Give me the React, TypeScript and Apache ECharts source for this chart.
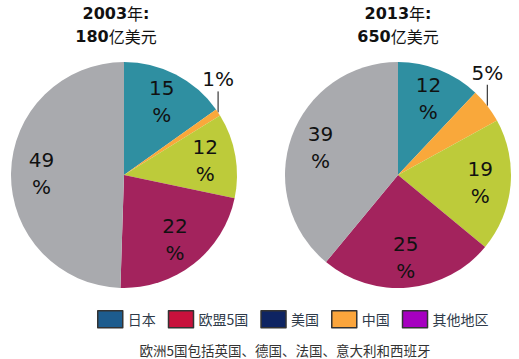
import React, { useEffect, useRef } from "react";
import * as echarts from "echarts";

const categories = ["日本", "中国", "美国", "欧盟5国", "其他地区"];
const values2003 = [15, 1, 12, 22, 49];
const values2013 = [12, 5, 19, 25, 39];
const sliceColors = ["#2F8FA1", "#F9A83B", "#BDCB3A", "#A3235D", "#A9AAAE"];
const legendOrder = ["日本", "欧盟5国", "美国", "中国", "其他地区"];
const legendColors = ["#1D5C8E", "#C8113C", "#0E2462", "#FBA53C", "#A600C0"];
const titleYears = ["2003", "2013"];
const titleAmounts = ["180", "650"];
const footnote = "欧洲5国包括英国、德国、法国、意大利和西班牙";

const SMALL = 6;
const FONT = "DejaVu Sans";

function pieSeries(values: number[], center: number[]) {
  const main = {
    type: "pie",
    center,
    radius: 113,
    startAngle: 90,
    clockwise: true,
    silent: true,
    avoidLabelOverlap: false,
    emphasis: { disabled: true },
    itemStyle: { borderWidth: 0 },
    label: { show: false },
    labelLine: { show: false },
    data: values.map((v, i) => ({
      name: categories[i],
      value: v,
      itemStyle: { color: sliceColors[i] },
      label:
        v < SMALL
          ? {
              show: true,
              position: "outside",
              formatter: "{c}%",
              fontSize: 20,
              fontFamily: FONT,
              color: "#111",
              overflow: "none",
              width: 60,
            }
          : { show: false },
      labelLine:
        v < SMALL
          ? { show: true, length: 10, length2: 0, lineStyle: { color: "#111", width: 1 } }
          : { show: false },
    })),
    labelLayout: (params: any) => {
      const pts = params.labelLinePoints;
      if (!pts || !pts.length) return {};
      const p = pts[0];
      return {
        x: p[0],
        y: p[1] - 23,
        align: "center",
        verticalAlign: "bottom",
        labelLinePoints: [
          [p[0], p[1]],
          [p[0], p[1] - 21],
          [p[0], p[1] - 21],
        ],
      };
    },
  };
  const overlay = {
    type: "pie",
    center,
    radius: [46, 113],
    startAngle: 90,
    clockwise: true,
    silent: true,
    emphasis: { disabled: true },
    legendHoverLink: false,
    itemStyle: { color: "transparent", borderWidth: 0 },
    labelLine: { show: false },
    label: {
      show: true,
      position: "inside",
      formatter: "{c}\n%",
      fontSize: 20,
      lineHeight: 27,
      fontFamily: FONT,
      color: "#111",
    },
    data: values.map((v, i) => ({
      name: categories[i],
      value: v,
      label: { show: v >= SMALL },
    })),
  };
  return [main, overlay];
}

export default function App() {
  const ref = useRef<HTMLDivElement>(null);
  useEffect(() => {
    document.body.style.margin = "0";
    if (!ref.current) return;
    const chart = echarts.init(ref.current, undefined, { renderer: "svg" });
    const titleCenters = [116, 398];
    const textStyle = {
      fontFamily: FONT,
      fontSize: 16,
      fontWeight: "bold",
      color: "#111",
      lineHeight: 18,
      rich: {
        n: { fontSize: 16, fontWeight: "normal", fontFamily: "Noto Sans CJK SC", color: "#111", lineHeight: 18 },
      },
    };
    const titles: any[] = [];
    titleYears.forEach((y, i) => {
      titles.push({
        text: `${y}{n|年}:`,
        left: titleCenters[i],
        top: 4,
        textAlign: "center",
        padding: 0,
        textStyle,
      });
      titles.push({
        text: `${titleAmounts[i]}{n|亿美元}`,
        left: titleCenters[i],
        top: 27,
        textAlign: "center",
        padding: 0,
        textStyle,
      });
    });
    chart.setOption({
      animation: false,
      backgroundColor: "#fff",
      title: titles,
      legend: {
        left: 92,
        top: 305,
        itemWidth: 25,
        itemHeight: 17,
        itemGap: 12,
        icon: "rect",
        selectedMode: false,
        textStyle: { fontSize: 14, color: "#2F3B4A", fontFamily: "Noto Sans CJK SC" },
        data: legendOrder.map((n, i) => ({
          name: n,
          itemStyle: { color: legendColors[i], borderColor: "#333", borderWidth: 1.5 },
        })),
      },
      graphic: [
        {
          type: "text",
          x: 285,
          y: 350,
          style: {
            text: footnote,
            fontSize: 13.5,
            fill: "#333",
            fontFamily: "Noto Sans CJK SC",
            textAlign: "center",
            textVerticalAlign: "middle",
          },
        },
      ],
      series: [...pieSeries(values2003, [124, 175]), ...pieSeries(values2013, [398, 175])],
    });
    return () => chart.dispose();
  }, []);
  return <div ref={ref} style={{ width: 519, height: 359 }} />;
}
